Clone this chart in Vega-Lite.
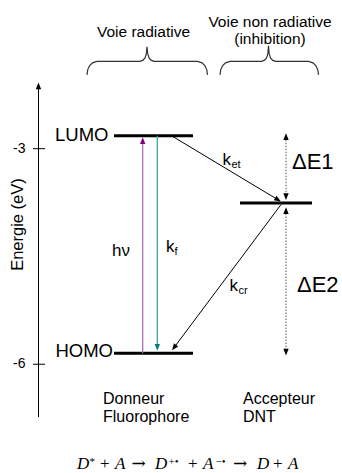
{
  "$schema": "https://vega.github.io/schema/vega-lite/v6.json",
  "width": 342,
  "height": 473,
  "padding": 0,
  "autosize": {"type": "fit", "contains": "padding"},
  "config": {"view": {"stroke": null}, "text": {"font": "Liberation Sans", "color": "#000000"}},
  "encoding": {
    "x": {"field": "x", "type": "quantitative", "scale": {"domain": [0, 342], "nice": false, "zero": false}, "axis": null},
    "y": {"field": "e", "type": "quantitative", "scale": {"domain": [-7.5, -0.9306], "nice": false, "zero": false}, "axis": null}
  },
  "layer": [
    {
      "data": {"values": [{"x": 38.5, "e": -6.736, "e2": -2.125}]},
      "mark": {"type": "rule", "color": "#000000", "strokeWidth": 1},
      "encoding": {"y2": {"field": "e2"}}
    },
    {
      "data": {"values": [{"x": 33, "x2": 45, "e": -3}, {"x": 33, "x2": 45, "e": -6}]},
      "mark": {"type": "rule", "color": "#000000", "strokeWidth": 1},
      "encoding": {"x2": {"field": "x2"}}
    },
    {
      "data": {"values": [{"x": 25.5, "e": -3, "label": "-3"}, {"x": 25.5, "e": -6, "label": "-6"}]},
      "mark": {"type": "text", "align": "right", "baseline": "middle", "fontSize": 14},
      "encoding": {"text": {"field": "label"}}
    },
    {
      "data": {"values": [{"x": 17.5, "e": -4.056, "label": "Energie (eV)"}]},
      "mark": {"type": "text", "align": "center", "baseline": "middle", "fontSize": 16.5, "angle": 270},
      "encoding": {"text": {"field": "label"}}
    },
    {
      "data": {"values": [
        {"niveau": "LUMO donneur", "x": 114, "x2": 193, "e": -2.819},
        {"niveau": "HOMO donneur", "x": 114, "x2": 193, "e": -5.847},
        {"niveau": "accepteur", "x": 240, "x2": 312, "e": -3.757}
      ]},
      "mark": {"type": "rule", "color": "#000000", "strokeWidth": 3},
      "encoding": {"x2": {"field": "x2"}}
    },
    {
      "data": {"values": [
        {"x": 108.5, "e": -2.889, "label": "LUMO"},
        {"x": 113, "e": -5.904, "label": "HOMO"}
      ]},
      "mark": {"type": "text", "align": "right", "baseline": "alphabetic", "fontSize": 18.5},
      "encoding": {"text": {"field": "label"}}
    },
    {
      "data": {"values": [{"x": 142.7, "e": -5.847, "e2": -2.889}]},
      "mark": {"type": "rule", "color": "#b06ec0", "strokeWidth": 1.3},
      "encoding": {"y2": {"field": "e2"}}
    },
    {
      "data": {"values": [{"x": 157.3, "e": -2.819, "e2": -5.764}]},
      "mark": {"type": "rule", "color": "#3aa3a0", "strokeWidth": 1.3},
      "encoding": {"y2": {"field": "e2"}}
    },
    {
      "data": {"values": [
        {"t": "ket", "x": 172, "e": -2.824, "x2": 278, "e2": -3.711},
        {"t": "kcr", "x": 281, "e": -3.778, "x2": 174.1, "e2": -5.767}
      ]},
      "mark": {"type": "rule", "color": "#000000", "strokeWidth": 1},
      "encoding": {"x2": {"field": "x2"}, "y2": {"field": "e2"}}
    },
    {
      "data": {"values": [
        {"t": "dE1", "x": 286, "e": -2.833, "e2": -3.667},
        {"t": "dE2", "x": 286, "e": -3.861, "e2": -5.833}
      ]},
      "mark": {"type": "rule", "color": "#555555", "strokeWidth": 1, "strokeDash": [1.5, 1.5]},
      "encoding": {"y2": {"field": "e2"}}
    },
    {
      "data": {"values": [
        {"arrow": "axe", "x": 38.5, "e": -2.125, "angle": 0},
        {"arrow": "hv", "x": 142.7, "e": -2.889, "angle": 0},
        {"arrow": "kf", "x": 157.3, "e": -5.764, "angle": 180},
        {"arrow": "ket", "x": 278, "e": -3.711, "angle": 121.2},
        {"arrow": "kcr", "x": 174.1, "e": -5.767, "angle": 216.7},
        {"arrow": "dE1 haut", "x": 286, "e": -2.833, "angle": 0},
        {"arrow": "dE1 bas", "x": 286, "e": -3.667, "angle": 180},
        {"arrow": "dE2 haut", "x": 286, "e": -3.861, "angle": 0},
        {"arrow": "dE2 bas", "x": 286, "e": -5.833, "angle": 180}
      ]},
      "mark": {"type": "point", "shape": "M0,-1L0.8,1L-0.8,1Z", "filled": true, "size": 45, "opacity": 1},
      "encoding": {
        "angle": {"field": "angle", "type": "quantitative", "scale": null},
        "color": {"field": "arrow", "type": "nominal", "legend": null,
          "scale": {"domain": ["axe", "hv", "kf", "ket", "kcr", "dE1 haut", "dE1 bas", "dE2 haut", "dE2 bas"],
                    "range": ["#000000", "#800080", "#008080", "#000000", "#000000", "#000000", "#000000", "#000000", "#000000"]}}
      }
    },
    {
      "data": {"values": [
        {"x": 112, "e": -4.5, "label": "hν"},
        {"x": 166, "e": -4.444, "label": "k"},
        {"x": 222.5, "e": -3.222, "label": "k"},
        {"x": 229.5, "e": -4.982, "label": "k"}
      ]},
      "mark": {"type": "text", "align": "left", "baseline": "alphabetic", "fontSize": 17},
      "encoding": {"text": {"field": "label"}}
    },
    {
      "data": {"values": [
        {"x": 174.5, "e": -4.486, "label": "f"},
        {"x": 231.5, "e": -3.271, "label": "et"},
        {"x": 238.5, "e": -5.028, "label": "cr"}
      ]},
      "mark": {"type": "text", "align": "left", "baseline": "alphabetic", "fontSize": 11},
      "encoding": {"text": {"field": "label"}}
    },
    {
      "data": {"values": [
        {"x": 292, "e": -3.278, "label": "ΔE1"},
        {"x": 297, "e": -5.0, "label": "ΔE2"}
      ]},
      "mark": {"type": "text", "align": "left", "baseline": "alphabetic", "fontSize": 22},
      "encoding": {"text": {"field": "label"}}
    },
    {
      "data": {"values": [
        {"x": 143.5, "e": -1.444, "label": "Voie radiative"},
        {"x": 270, "e": -1.306, "label": "Voie non radiative"},
        {"x": 270, "e": -1.549, "label": "(inhibition)"}
      ]},
      "mark": {"type": "text", "align": "center", "baseline": "alphabetic", "fontSize": 15.5},
      "encoding": {"text": {"field": "label"}}
    },
    {
      "data": {"values": [
        {"x": 103, "e": -6.556, "label": "Donneur"},
        {"x": 103, "e": -6.801, "label": "Fluorophore"},
        {"x": 243, "e": -6.556, "label": "Accepteur"},
        {"x": 243, "e": -6.801, "label": "DNT"}
      ]},
      "mark": {"type": "text", "align": "left", "baseline": "alphabetic", "fontSize": 16},
      "encoding": {"text": {"field": "label"}}
    },
    {
      "data": {"values": [
        {"brace": "radiative", "i": 1, "x": 87, "e": -1.972},
        {"brace": "radiative", "i": 2, "x": 87.7, "e": -1.903},
        {"brace": "radiative", "i": 3, "x": 89.5, "e": -1.847},
        {"brace": "radiative", "i": 4, "x": 92.5, "e": -1.806},
        {"brace": "radiative", "i": 5, "x": 97, "e": -1.785},
        {"brace": "radiative", "i": 6, "x": 140, "e": -1.785},
        {"brace": "radiative", "i": 7, "x": 143, "e": -1.768},
        {"brace": "radiative", "i": 8, "x": 145, "e": -1.736},
        {"brace": "radiative", "i": 9, "x": 146.3, "e": -1.681},
        {"brace": "radiative", "i": 10, "x": 147, "e": -1.583},
        {"brace": "radiative", "i": 11, "x": 147.7, "e": -1.681},
        {"brace": "radiative", "i": 12, "x": 149, "e": -1.736},
        {"brace": "radiative", "i": 13, "x": 151, "e": -1.768},
        {"brace": "radiative", "i": 14, "x": 154, "e": -1.785},
        {"brace": "radiative", "i": 15, "x": 197.5, "e": -1.785},
        {"brace": "radiative", "i": 16, "x": 202, "e": -1.806},
        {"brace": "radiative", "i": 17, "x": 205, "e": -1.847},
        {"brace": "radiative", "i": 18, "x": 206.8, "e": -1.903},
        {"brace": "radiative", "i": 19, "x": 207.5, "e": -1.972},
        {"brace": "non radiative", "i": 1, "x": 220, "e": -1.972},
        {"brace": "non radiative", "i": 2, "x": 220.7, "e": -1.903},
        {"brace": "non radiative", "i": 3, "x": 222.5, "e": -1.847},
        {"brace": "non radiative", "i": 4, "x": 225.5, "e": -1.806},
        {"brace": "non radiative", "i": 5, "x": 230, "e": -1.785},
        {"brace": "non radiative", "i": 6, "x": 261.5, "e": -1.785},
        {"brace": "non radiative", "i": 7, "x": 264.5, "e": -1.768},
        {"brace": "non radiative", "i": 8, "x": 266.5, "e": -1.736},
        {"brace": "non radiative", "i": 9, "x": 267.8, "e": -1.681},
        {"brace": "non radiative", "i": 10, "x": 268.5, "e": -1.569},
        {"brace": "non radiative", "i": 11, "x": 269.2, "e": -1.681},
        {"brace": "non radiative", "i": 12, "x": 270.5, "e": -1.736},
        {"brace": "non radiative", "i": 13, "x": 272.5, "e": -1.768},
        {"brace": "non radiative", "i": 14, "x": 275.5, "e": -1.785},
        {"brace": "non radiative", "i": 15, "x": 308.5, "e": -1.785},
        {"brace": "non radiative", "i": 16, "x": 313, "e": -1.806},
        {"brace": "non radiative", "i": 17, "x": 316, "e": -1.847},
        {"brace": "non radiative", "i": 18, "x": 317.8, "e": -1.903},
        {"brace": "non radiative", "i": 19, "x": 318.5, "e": -1.972}
      ]},
      "mark": {"type": "line", "color": "#333333", "strokeWidth": 1.2},
      "encoding": {
        "detail": {"field": "brace", "type": "nominal"},
        "order": {"field": "i", "type": "quantitative"}
      }
    },
    {
      "data": {"values": [
        {"x": 77, "e": -7.465, "label": "D"},
        {"x": 115, "e": -7.465, "label": "A"},
        {"x": 155, "e": -7.465, "label": "D"},
        {"x": 203, "e": -7.465, "label": "A"},
        {"x": 257, "e": -7.465, "label": "D"},
        {"x": 288, "e": -7.465, "label": "A"}
      ]},
      "mark": {"type": "text", "align": "left", "baseline": "alphabetic", "fontSize": 17, "font": "Liberation Serif", "fontStyle": "italic"},
      "encoding": {"text": {"field": "label"}}
    },
    {
      "data": {"values": [
        {"x": 100, "e": -7.465, "label": "+"},
        {"x": 188, "e": -7.465, "label": "+"},
        {"x": 273, "e": -7.465, "label": "+"}
      ]},
      "mark": {"type": "text", "align": "left", "baseline": "alphabetic", "fontSize": 17, "font": "Liberation Serif"},
      "encoding": {"text": {"field": "label"}}
    },
    {
      "data": {"values": [
        {"x": 131.5, "e": -7.458, "label": "→"},
        {"x": 233, "e": -7.458, "label": "→"}
      ]},
      "mark": {"type": "text", "align": "left", "baseline": "alphabetic", "fontSize": 17, "font": "DejaVu Serif"},
      "encoding": {"text": {"field": "label"}}
    },
    {
      "data": {"values": [
        {"x": 89.5, "e": -7.403, "label": "*"},
        {"x": 168.5, "e": -7.403, "label": "+•"},
        {"x": 215.5, "e": -7.403, "label": "−•"}
      ]},
      "mark": {"type": "text", "align": "left", "baseline": "alphabetic", "fontSize": 11, "font": "Liberation Serif"},
      "encoding": {"text": {"field": "label"}}
    }
  ]
}
